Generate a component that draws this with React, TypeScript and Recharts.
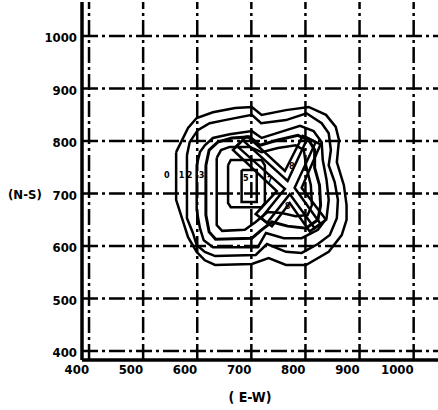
import React from "react";
import { ScatterChart, Scatter, XAxis, YAxis, ReferenceLine, Label } from "recharts";

const INK = "#000";
const FONT = "'DejaVu Sans Condensed', 'DejaVu Sans', sans-serif";
const DASH_DOT = "16 4 3 4";

const X_TICKS = [400, 500, 600, 700, 800, 900, 1000];
const Y_TICKS = [400, 500, 600, 700, 800, 900, 1000];

type P = { x: number; y: number };
const pts = (rows: number[][]): P[] => rows.map(([x, y]) => ({ x, y }));

// contour lines as (E-W, N-S) pairs, outermost first
const CONTOUR_0 = pts([
  [561, 779], [583, 825], [599, 844], [629, 855], [670, 863], [701, 865], [719, 850], [764, 859],
  [806, 865], [838, 850], [856, 827], [862, 802], [858, 760], [871, 716], [876, 678], [876, 650],
  [867, 621], [843, 589], [801, 564], [764, 564], [732, 577], [701, 566], [633, 564], [614, 573],
  [599, 589], [583, 617], [574, 646], [561, 688], [561, 779],
]);
const CONTOUR_1 = pts([
  [581, 773], [586, 798], [601, 821], [623, 834], [651, 840], [701, 850], [718, 834], [764, 840],
  [802, 853], [830, 834], [843, 815], [847, 783], [843, 754], [854, 722], [860, 688], [858, 653],
  [845, 621], [823, 604], [793, 587], [764, 589], [729, 604], [708, 583], [633, 581], [614, 589],
  [599, 602], [592, 625], [581, 653], [581, 773],
]);
const CONTOUR_2 = pts([
  [599, 754], [605, 779], [614, 792], [629, 806], [660, 813], [701, 819], [719, 806], [753, 817],
  [790, 829], [815, 819], [830, 798], [832, 764], [839, 726], [843, 688], [839, 653], [823, 631],
  [793, 615], [760, 615], [727, 625], [712, 598], [629, 598], [612, 611], [605, 634], [599, 669],
  [599, 754],
]);
const CONTOUR_3 = pts([
  [616, 754], [622, 783], [638, 798], [664, 806], [697, 808], [716, 792], [749, 802], [786, 811],
  [806, 802], [817, 783], [817, 749], [826, 716], [828, 678], [823, 650], [801, 634], [767, 638],
  [738, 646], [719, 631], [701, 615], [634, 613], [622, 627], [616, 659], [616, 754],
]);
const CONTOUR_4 = pts([
  [636, 768], [644, 783], [660, 789], [697, 789], [719, 779], [749, 787], [782, 792], [797, 783],
  [801, 754], [810, 716], [812, 678], [804, 659], [782, 657], [756, 663], [730, 665], [708, 646],
  [688, 631], [646, 629], [636, 640], [636, 768],
]);
const CONTOUR_5 = pts([
  [657, 754], [662, 764], [719, 764], [725, 754], [725, 682], [719, 674], [662, 674], [657, 682],
  [657, 754],
]);
const CONTOUR_6 = pts([[682, 745], [710, 745], [710, 684], [682, 684], [682, 745]]);
const CROSS_OUTER = pts([
  [692, 810], [762, 743], [795, 810], [828, 794], [793, 711], [838, 650], [808, 628], [771, 682],
  [738, 638], [708, 661], [747, 705], [666, 783], [692, 810],
]);
const CROSS_INNER = pts([
  [684, 802], [767, 724], [804, 806], [819, 798], [780, 711], [828, 642], [817, 634], [771, 699],
  [729, 644], [718, 653], [762, 709], [673, 791], [684, 802],
]);

const CONTOURS = [CONTOUR_0, CONTOUR_1, CONTOUR_2, CONTOUR_3, CONTOUR_4, CONTOUR_5, CONTOUR_6, CROSS_OUTER, CROSS_INNER];

const LEVEL_LABELS = [
  { x: 544, y: 729, text: "0" },
  { x: 571, y: 729, text: "1" },
  { x: 586, y: 729, text: "2" },
  { x: 608, y: 729, text: "3" },
  { x: 690, y: 724, text: "5" },
  { x: 734, y: 720, text: "7" },
  { x: 775, y: 747, text: "8" },
  { x: 767, y: 670, text: "8" },
];

const XTick = (props: any) => {
  const { x, y, payload } = props;
  return (
    <text x={x} y={y + 14} textAnchor="end" fontFamily={FONT} fontWeight="bold" fontSize={13} fill={INK}>
      {payload.value}
    </text>
  );
};

const YTick = (props: any) => {
  const { x, y, payload } = props;
  return (
    <g>
      {payload.value === 700 ? (
        <text x={8} y={y + 5} fontFamily={FONT} fontWeight="bold" fontSize={13} fill={INK}>
          (N-S)
        </text>
      ) : null}
      <text x={x - 5} y={y + 6} textAnchor="end" fontFamily={FONT} fontWeight="bold" fontSize={13} fill={INK}>
        {payload.value}
      </text>
    </g>
  );
};

const NoDot = () => <g />;

const LevelText = (props: any) => (
  <text x={props.cx} y={props.cy} textAnchor="middle" fontFamily={FONT} fontWeight="bold" fontSize={9} fill={INK}>
    {props.payload.text}
  </text>
);

export default function App() {
  return (
    <div style={{ position: "absolute", left: 0, top: 0, background: "#fff" }}>
      <ScatterChart width={438} height={410} margin={{ top: 2, right: 0, bottom: 0, left: 0 }}>
        <XAxis
          type="number"
          dataKey="x"
          domain={[387, 1045]}
          ticks={X_TICKS}
          interval={0}
          allowDataOverflow
          height={50}
          tickSize={0}
          tickMargin={0}
          tickLine={false}
          axisLine={{ stroke: INK, strokeWidth: 3.5 }}
          tick={<XTick />}
        >
          <Label
            value="( E-W)"
            position="insideBottom"
            offset={8}
            dx={-10}
            style={{ fontFamily: FONT, fontWeight: "bold", fontSize: 14, fill: INK }}
          />
        </XAxis>
        <YAxis
          type="number"
          dataKey="y"
          domain={[383, 1065]}
          ticks={Y_TICKS}
          interval={0}
          allowDataOverflow
          width={82}
          tickSize={0}
          tickMargin={0}
          tickLine={false}
          axisLine={{ stroke: INK, strokeWidth: 3.5 }}
          tick={<YTick />}
        />
        {X_TICKS.map((v) => (
          <ReferenceLine key={`vx${v}`} x={v} stroke={INK} strokeWidth={2.5} strokeDasharray={DASH_DOT} />
        ))}
        {Y_TICKS.map((v) => (
          <ReferenceLine key={`hy${v}`} y={v} stroke={INK} strokeWidth={2.5} strokeDasharray={DASH_DOT} />
        ))}
        {CONTOURS.map((c, i) => (
          <Scatter
            key={i}
            data={c}
            line={{ stroke: INK, strokeWidth: i === 3 ? 3 : 2.5, fill: "none" }}
            shape={NoDot}
            isAnimationActive={false}
          />
        ))}
        <Scatter data={LEVEL_LABELS} shape={LevelText} isAnimationActive={false} />
      </ScatterChart>
    </div>
  );
}
